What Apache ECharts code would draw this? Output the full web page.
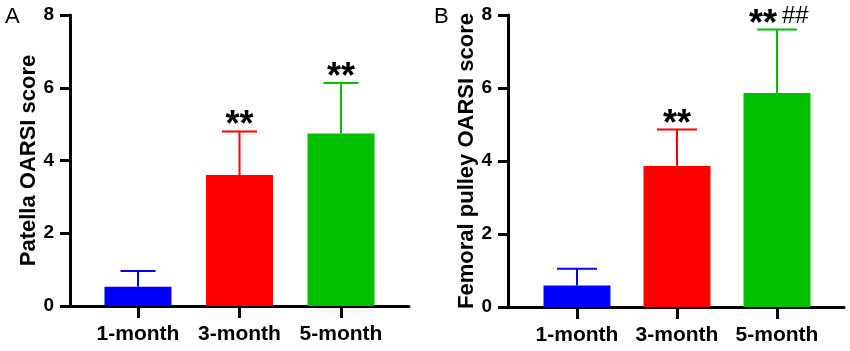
<!DOCTYPE html>
<html>
<head>
<meta charset="utf-8">
<script src="https://cdn.jsdelivr.net/npm/echarts@6/dist/echarts.min.js"></script>
<style>
html, body { margin: 0; padding: 0; background: #fff; }
#main { width: 850px; height: 351px; }
</style>
</head>
<body>
<div id="main"></div>
<script>
// data
var months = ['1-month', '3-month', '5-month'];
var patellaMean = [0.53, 3.6, 4.74];
var patellaSD = [0.43, 1.2, 1.39];
var patellaMarks = ['', '**', '**'];
var pulleyMean = [0.59, 3.86, 5.86];
var pulleySD = [0.46, 1.0, 1.74];
var pulleyMarks = ['', '**', '**##'];
var yTicks = [0, 2, 4, 6, 8];

var FONT = '"Liberation Sans", Arial, sans-serif';
var barColors = ['#0000ff', '#ff0000', '#00c000'];

var chart = echarts.init(document.getElementById('main'));

function xAxisOf(g, min, max) {
    return {
        type: 'value', gridIndex: g, min: min, max: max,
        axisLine: { show: true, lineStyle: { color: '#000', width: 3 } },
        axisTick: { show: true, customValues: [0, 1, 2], length: 12, lineStyle: { color: '#000', width: 3 } },
        axisLabel: {
            customValues: [0, 1, 2],
            formatter: function (v) { return months[Math.round(v)]; },
            fontSize: 21, fontWeight: 'bold', color: '#000', fontFamily: FONT, margin: 18
        },
        splitLine: { show: false }
    };
}

function yAxisOf(g, name, gap) {
    return {
        type: 'value', gridIndex: g, min: yTicks[0], max: yTicks[yTicks.length - 1], interval: 2,
        name: name, nameLocation: 'middle', nameGap: gap,
        nameTextStyle: { fontSize: 22, fontWeight: 'bold', color: '#000', fontFamily: FONT },
        axisLine: { show: true, onZero: false, lineStyle: { color: '#000', width: 3 } },
        axisTick: { show: true, length: 10, lineStyle: { color: '#000', width: 3 } },
        axisLabel: { fontSize: 19, fontWeight: 'bold', color: '#000', fontFamily: FONT, margin: 16 },
        splitLine: { show: false }
    };
}

function barSeries(g, means) {
    return {
        type: 'bar', xAxisIndex: g, yAxisIndex: g, barWidth: 67,
        data: means.map(function (m, i) {
            return { value: [i, m], itemStyle: { color: barColors[i] } };
        })
    };
}

// upward-only error bars, with the significance marks above the cap
function errSeries(g, means, sds, marks, capW) {
    return {
        type: 'custom', xAxisIndex: g, yAxisIndex: g, z: 5,
        data: means.map(function (m, i) { return [i, m, m + sds[i]]; }),
        renderItem: function (params, api) {
            var i = api.value(0);
            var base = api.coord([i, api.value(1)]);
            var top = api.coord([i, api.value(2)]);
            var col = barColors[params.dataIndex];
            var kids = [
                { type: 'line', shape: { x1: base[0], y1: base[1], x2: top[0], y2: top[1] }, style: { stroke: col, lineWidth: 2 } },
                { type: 'line', shape: { x1: top[0] - capW / 2, y1: top[1], x2: top[0] + capW / 2, y2: top[1] }, style: { stroke: col, lineWidth: 2 } }
            ];
            var mark = marks[params.dataIndex];
            if (mark) {
                var stars = mark.replace(/#/g, '');
                var hashes = mark.replace(/\*/g, '');
                kids.push({
                    type: 'text',
                    style: {
                        text: stars, x: top[0] - (hashes ? 14 : 0), y: top[1] + 13,
                        align: 'center', verticalAlign: 'bottom', fill: '#000',
                        font: 'bold 36px ' + FONT
                    }
                });
                if (hashes) {
                    kids.push({
                        type: 'text',
                        style: {
                            text: hashes, x: top[0] + 5, y: top[1] - 13,
                            align: 'left', verticalAlign: 'middle', fill: '#000',
                            font: '24px ' + FONT
                        }
                    });
                }
            }
            return { type: 'group', children: kids };
        }
    };
}

var option = {
    animation: false,
    title: [
        { text: 'A', left: 5, top: 6, padding: 0, textStyle: { fontSize: 22, fontWeight: 'normal', color: '#000', fontFamily: FONT } },
        { text: 'B', left: 434, top: 6, padding: 0, textStyle: { fontSize: 22, fontWeight: 'normal', color: '#000', fontFamily: FONT } }
    ],
    grid: [
        { left: 70, right: 441, top: 15, bottom: 45 },
        { left: 508, right: 6, top: 15, bottom: 44 }
    ],
    xAxis: [xAxisOf(0, -0.67, 2.67), xAxisOf(1, -0.69, 2.67)],
    yAxis: [yAxisOf(0, 'Patella OARSI score', 30), yAxisOf(1, 'Femoral pulley OARSI score', 30)],
    series: [
        barSeries(0, patellaMean),
        errSeries(0, patellaMean, patellaSD, patellaMarks, 35),
        barSeries(1, pulleyMean),
        errSeries(1, pulleyMean, pulleySD, pulleyMarks, 40)
    ]
};

chart.setOption(option);
</script>
</body>
</html>
